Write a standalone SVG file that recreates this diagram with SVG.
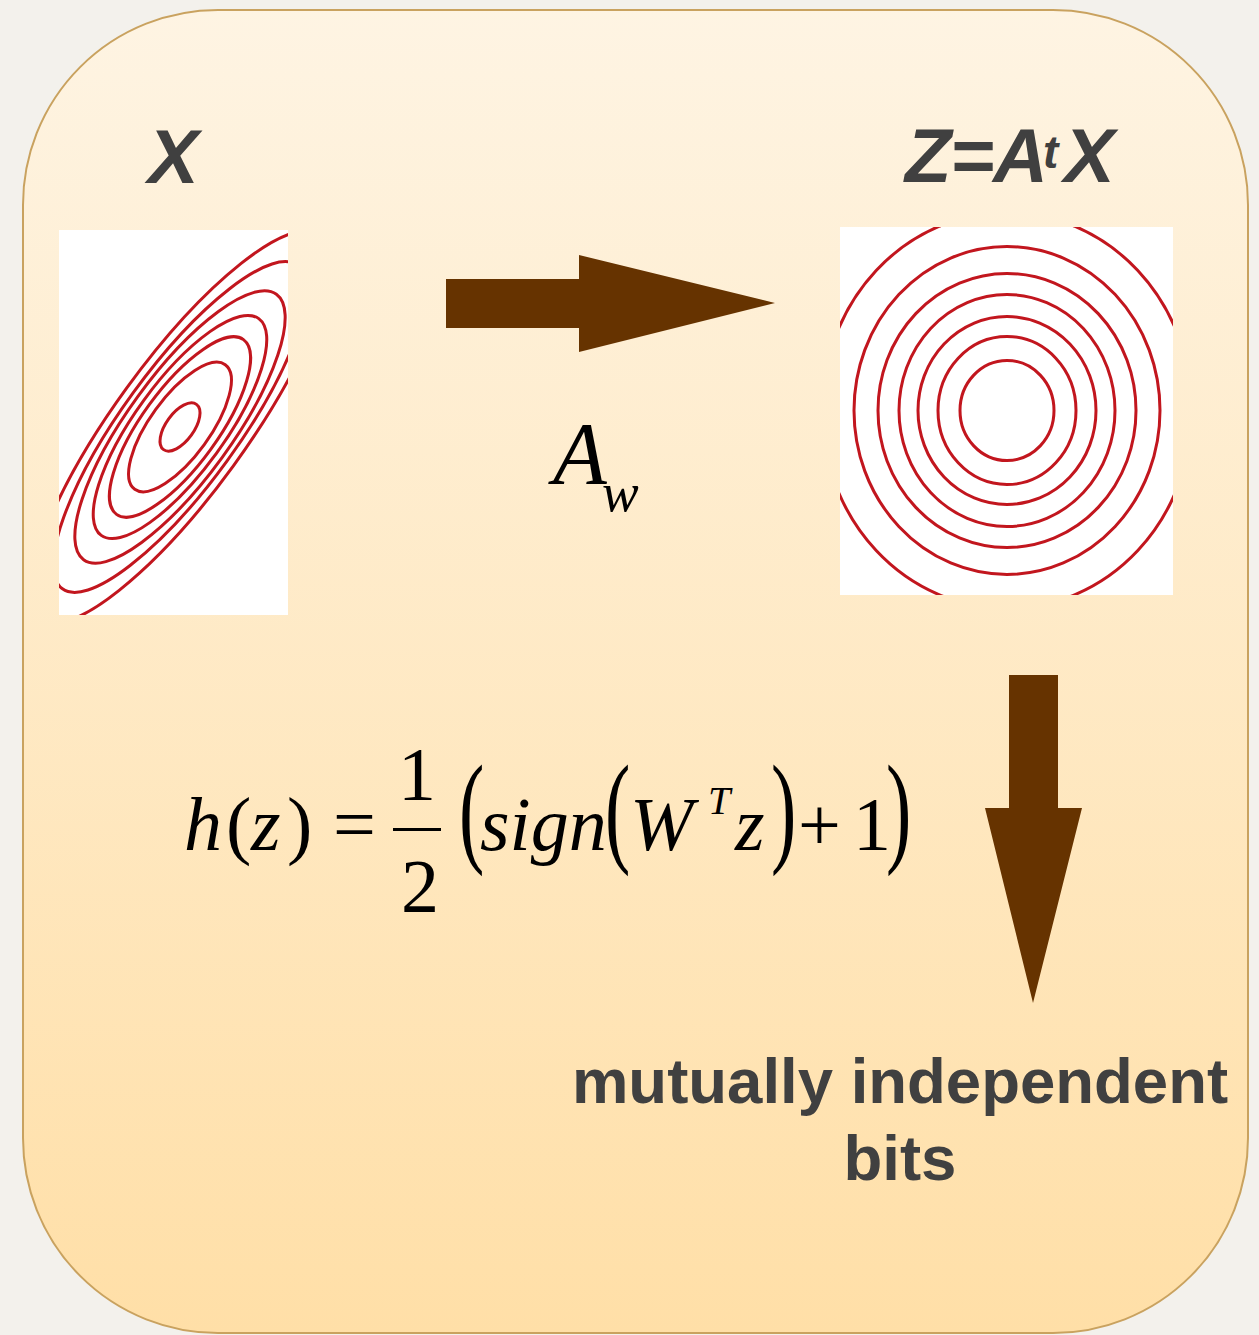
<svg xmlns="http://www.w3.org/2000/svg" width="1259" height="1335" viewBox="0 0 1259 1335">
  <defs>
    <linearGradient id="panelGrad" x1="0" y1="0" x2="0" y2="1">
      <stop offset="0" stop-color="#fef4e3"/>
      <stop offset="1" stop-color="#ffdfa7"/>
    </linearGradient>
    <clipPath id="clipL"><rect x="59" y="230" width="229" height="385"/></clipPath>
    <clipPath id="clipR"><rect x="840" y="227" width="333" height="368"/></clipPath>
  </defs>
  <style>
    .lbl { font-family: "Liberation Sans", Arial, sans-serif; font-weight: bold; fill: #404040; }
    .math { font-family: "Liberation Serif", "Times New Roman", serif; fill: #000; }
    .it { font-style: italic; }
    .contour { fill: none; stroke: #c2161e; stroke-width: 3; }
    .arrow { fill: #663300; }
  </style>
  <rect x="0" y="0" width="1259" height="1335" fill="#f3f1ec"/>
  <g id="panel">
    <rect x="23" y="10" width="1225" height="1323" rx="195" ry="195" fill="url(#panelGrad)" stroke="#c9a25f" stroke-width="2"/>
  </g>
  <g id="node-x">
    <text class="lbl" x="148" y="183" font-size="76" font-style="italic">X</text>
    <rect x="59" y="230" width="229" height="385" fill="#ffffff"/>
    <g clip-path="url(#clipL)">
      <g transform="translate(180,427) rotate(-54)">
        <ellipse class="contour" cx="0" cy="0" rx="28" ry="14"/>
        <ellipse class="contour" cx="0" cy="0" rx="77" ry="30"/>
        <ellipse class="contour" cx="0" cy="0" rx="108" ry="38"/>
        <ellipse class="contour" cx="0" cy="0" rx="134" ry="45"/>
        <ellipse class="contour" cx="0" cy="0" rx="164" ry="52"/>
        <ellipse class="contour" cx="0" cy="0" rx="200" ry="58"/>
        <ellipse class="contour" cx="0" cy="0" rx="238" ry="66"/>
      </g>
    </g>
  </g>
  <g id="node-z">
    <text class="lbl" font-size="76" font-style="italic" y="182"><tspan x="905">Z</tspan><tspan x="950">=</tspan><tspan x="993">A</tspan><tspan x="1043" y="168" font-size="46">t</tspan><tspan x="1064" y="182">X</tspan></text>
    <rect x="840" y="227" width="333" height="368" fill="#ffffff"/>
    <g clip-path="url(#clipR)">
      <g transform="translate(1007,410.5)">
        <ellipse class="contour" cx="0" cy="0" rx="47" ry="50"/>
        <ellipse class="contour" cx="0" cy="0" rx="69" ry="74"/>
        <ellipse class="contour" cx="0" cy="0" rx="89" ry="94"/>
        <ellipse class="contour" cx="0" cy="0" rx="108" ry="116"/>
        <ellipse class="contour" cx="0" cy="0" rx="129" ry="137"/>
        <ellipse class="contour" cx="0" cy="0" rx="153" ry="164"/>
        <ellipse class="contour" cx="0" cy="0" rx="185" ry="198"/>
      </g>
    </g>
  </g>
  <g id="node-aw">
    <text class="math it" x="553" y="483" font-size="88">A</text>
    <text class="math it" x="602" y="511" font-size="55">w</text>
  </g>
  <g id="node-formula">
    <text class="math it" x="184" y="850" font-size="76">h</text>
    <text class="math" x="226" y="850" font-size="76">(</text>
    <text class="math it" x="251" y="850" font-size="76">z</text>
    <text class="math" x="287" y="850" font-size="76">)</text>
    <text class="math" x="333" y="850" font-size="76">=</text>
    <text class="math" x="398" y="800" font-size="76">1</text>
    <rect x="393" y="828" width="48" height="3" fill="#000"/>
    <text class="math" x="401" y="912" font-size="76">2</text>
    <text class="math" transform="translate(459,821) scale(1,1.62)" x="0" y="18" font-size="76">(</text>
    <text class="math it" x="480" y="850" font-size="76">sign</text>
    <text class="math" transform="translate(605,821) scale(1,1.62)" x="0" y="18" font-size="76">(</text>
    <text class="math it" x="630" y="850" font-size="76">W</text>
    <text class="math it" x="708" y="814" font-size="40">T</text>
    <text class="math it" x="735" y="850" font-size="76">z</text>
    <text class="math" transform="translate(771,821) scale(1,1.62)" x="0" y="18" font-size="76">)</text>
    <text class="math" x="798" y="850" font-size="76">+</text>
    <text class="math" x="853" y="850" font-size="76">1</text>
    <text class="math" transform="translate(886,821) scale(1,1.62)" x="0" y="18" font-size="76">)</text>
  </g>
  <g id="node-bits">
    <text class="lbl" x="900" y="1103" font-size="63.5" text-anchor="middle">mutually independent</text>
    <text class="lbl" x="900" y="1180" font-size="63.5" text-anchor="middle">bits</text>
  </g>
  <g id="connectors">
    <polygon class="arrow" points="446,279 579,279 579,255 775,303 579,352 579,328 446,328"/>
    <polygon class="arrow" points="1009,675 1058,675 1058,808 1082,808 1033,1003 985,808 1009,808"/>
  </g>
</svg>
